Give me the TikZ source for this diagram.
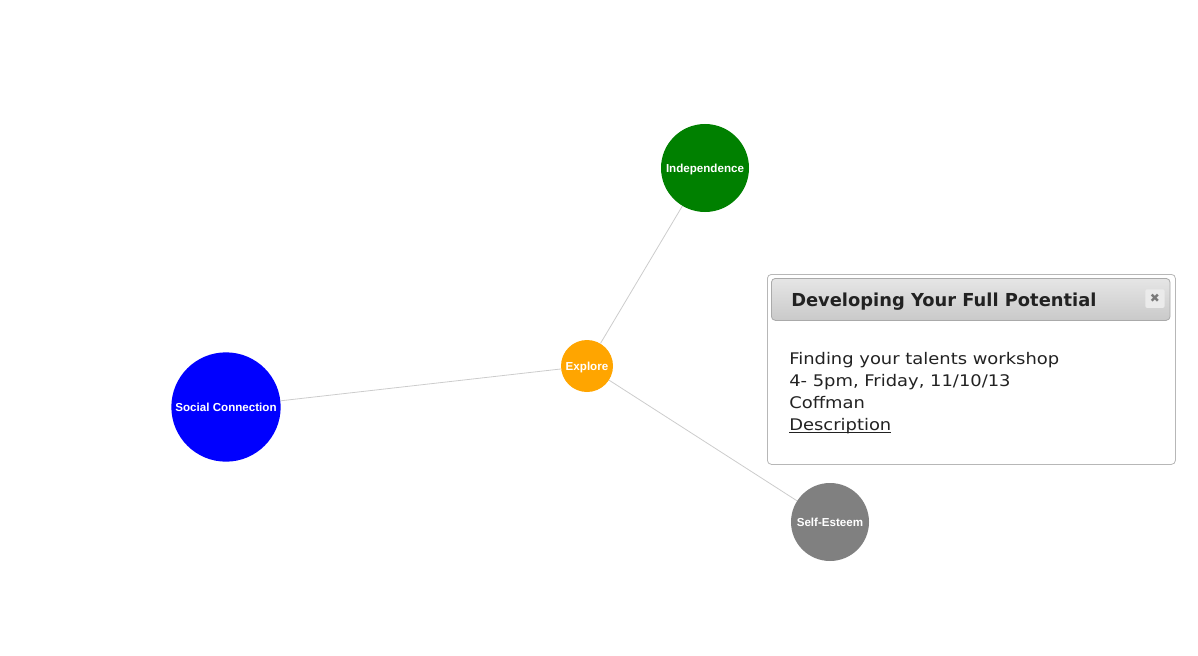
\documentclass[tikz,border=0pt]{standalone}
\usepackage{fontspec}
\setmainfont{DejaVu Sans}
\newfontfamily\arialfont{Liberation Sans}
\newfontfamily\wideface[FakeStretch=1.12]{DejaVu Sans}
\usepackage{tikz}
\usetikzlibrary{positioning}

\definecolor{explorecol}{HTML}{FFA500}
\definecolor{indepcol}{HTML}{008000}
\definecolor{socialcol}{HTML}{0000FF}
\definecolor{esteemcol}{HTML}{808080}
\definecolor{linkcol}{HTML}{CCCCCC}
\definecolor{boxline}{HTML}{AAAAAA}
\definecolor{textcol}{HTML}{222222}

\newcommand{\linktext}[1]{\setbox0=\hbox{#1}\rlap{\rule[-2pt]{\wd0}{0.75pt}}#1}

\begin{document}
\begin{tikzpicture}[
    x=0.75pt, y=-0.75pt,
    topic/.style={circle, draw=none, inner sep=0pt, text=white, align=center,
                  text height=0.72em, text depth=0pt,
                  font=\arialfont\bfseries\fontsize{8.7}{9}\selectfont},
    link/.style={draw=linkcol, line width=0.6pt},
    dialog/.style={draw=boxline!85!white, rounded corners=3pt, fill=white, line width=0.6pt,
                   minimum width=306pt, minimum height=142.5pt, inner sep=0pt},
    titlebar/.style={draw=boxline, rounded corners=3pt, top color=white!90!black,
                     bottom color=white!79!black, line width=0.6pt,
                     minimum width=299pt, minimum height=31.5pt, inner sep=0pt},
    closebtn/.style={draw=none, fill=white!92!black, rounded corners=1.5pt,
                     minimum width=14.5pt, minimum height=14pt, inner sep=0pt,
                     text=white!48!black, font=\fontsize{9}{9}\selectfont}
]
\useasboundingbox (0,0) rectangle (1198,656);

\node[topic, fill=explorecol, minimum size=39pt] (explore) at (587,366) {Explore};
\node[topic, fill=indepcol, minimum size=66pt] (indep) at (705,168) {Independence};
\node[topic, fill=socialcol, minimum size=82pt] (social) at (226,407) {Social Connection};
\node[topic, fill=esteemcol, minimum size=58.5pt] (esteem) at (830,522) {Self-Esteem};

\draw[link] (explore) -- (indep);
\draw[link] (explore) -- (social);
\draw[link] (explore) -- (esteem);

\node[dialog, anchor=north west] (popup) at (767,274) {};
\node[titlebar, anchor=north west] (header) at (771,278) {};
\node[anchor=base west, inner sep=0pt, text=textcol,
      font=\bfseries\fontsize{13.4}{15}\selectfont] (title) at (791,306) {Developing Your Full Potential};
\node[closebtn, anchor=north west] (close) at (1145,289) {✖};
\node[anchor=north west, inner sep=0pt, align=left, text=textcol,
      font=\wideface\fontsize{12}{16.5}\selectfont] (details) at (789,352)
    {Finding your talents workshop\\4- 5pm, Friday, 11/10/13\\Coffman\\\linktext{Description}};
\end{tikzpicture}
\end{document}
